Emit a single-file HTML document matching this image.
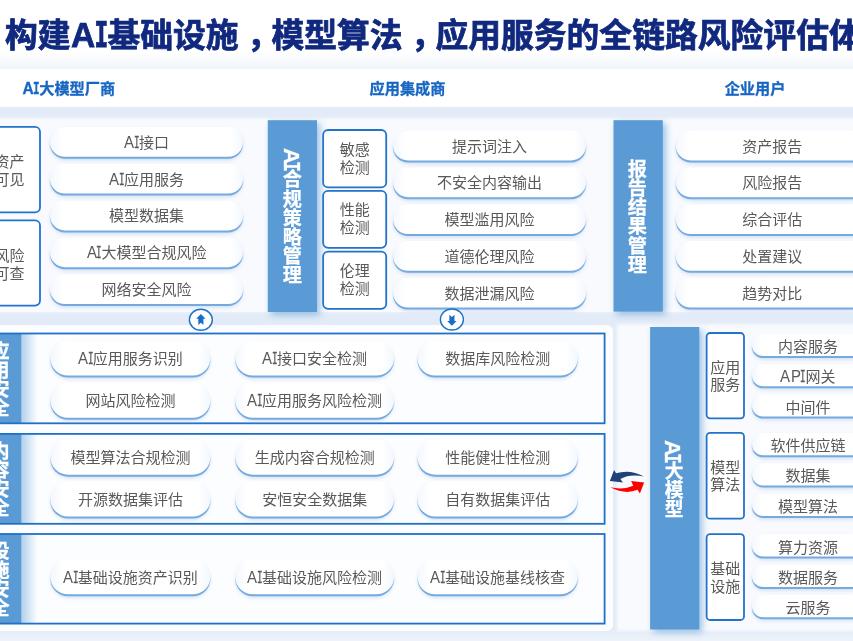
<!DOCTYPE html><html lang="zh"><head><meta charset="utf-8"><title>AI</title><style>
*{margin:0;padding:0;box-sizing:border-box}
html,body{width:853px;height:641px;overflow:hidden;background:#fff}
body{position:relative;will-change:transform;font-family:"Liberation Sans", "Noto Sans CJK SC", sans-serif;color:#595959}
.abs{position:absolute}
.title{position:absolute;left:5px;top:11.7px;-webkit-text-stroke:0.75px #10297f;white-space:nowrap;font-weight:700;font-size:32.8px;line-height:48px;color:#10297f}
.hd{position:absolute;top:79.2px;-webkit-text-stroke:0.3px #1766c2;height:20px;line-height:20px;font-size:15.2px;font-weight:700;color:#1766c2;white-space:nowrap;transform:translateX(-50%)}
.pt{position:absolute;text-align:center;font-size:15px;white-space:nowrap}
.bx{position:absolute;font-size:15px;line-height:18px;text-align:center;display:flex;align-items:center;justify-content:center}
.bar{position:absolute;color:#fff;-webkit-text-stroke:0.25px #fff;font-weight:700;writing-mode:vertical-rl;text-align:center;display:flex;align-items:center;justify-content:center;white-space:nowrap}
</style></head><body>
<div class="abs" style="left:0;top:52px;width:853px;height:16.5px;background:linear-gradient(#fff,#f0f4fa)"></div>
<div class="abs" style="left:0;top:107px;width:853px;height:534px;background:#e2ebf7"></div>
<div class="abs" style="left:0;top:630px;width:853px;height:11px;background:linear-gradient(#e3ecf8,#eef3fa)"></div>
<div class="abs" style="left:-20px;top:120px;width:900px;height:192px;background:#f8fafe;box-shadow:0 -1px 3px 1px #f8fafe"></div>
<div class="abs" style="left:619px;top:326px;width:300px;height:303px;background:#f8fafe;box-shadow:0 0 3px 2px #f8fafe"></div>
<div class="abs" style="left:-20px;top:325.4px;width:633px;height:305.6px;background:#fcfdff;border-radius:6px"></div>
<svg class="abs" style="left:0;top:0" width="853" height="641" viewBox="0 0 853 641"><defs><filter id="b0" x="-5%" y="-20%" width="110%" height="140%"><feGaussianBlur stdDeviation="0.35"/></filter><filter id="b3" x="-10%" y="-50%" width="120%" height="200%"><feGaussianBlur stdDeviation="2.2"/></filter><filter id="b4" x="-50%" y="-10%" width="200%" height="120%"><feGaussianBlur stdDeviation="3.5"/></filter><linearGradient id="g1" x1="0" y1="0" x2="1" y2="0"><stop offset="0" stop-color="#f3f7fd"/><stop offset="0.062" stop-color="#fff"/><stop offset="0.938" stop-color="#fff"/><stop offset="1" stop-color="#f3f7fd"/></linearGradient><linearGradient id="g2" x1="0" y1="0" x2="1" y2="0"><stop offset="0" stop-color="#f3f7fd"/><stop offset="0.075" stop-color="#fff"/><stop offset="0.925" stop-color="#fff"/><stop offset="1" stop-color="#f3f7fd"/></linearGradient><linearGradient id="g3" x1="0" y1="0" x2="1" y2="0"><stop offset="0" stop-color="#f3f7fd"/><stop offset="0.089" stop-color="#fff"/><stop offset="0.911" stop-color="#fff"/><stop offset="1" stop-color="#f3f7fd"/></linearGradient><linearGradient id="gl" x1="0" y1="0" x2="0" y2="1"><stop offset="0.35" stop-color="#76aade" stop-opacity="0"/><stop offset="0.8" stop-color="#76aade" stop-opacity="1"/></linearGradient><linearGradient id="gs" x1="0" y1="0" x2="1" y2="0"><stop offset="0" stop-color="#5b9bd5" stop-opacity=".45"/><stop offset="1" stop-color="#5b9bd5" stop-opacity="0"/></linearGradient></defs><rect x="51.00" y="130.00" width="191.00" height="29.80" rx="14.90" fill="#9dbfe6" opacity=".55" filter="url(#b3)"/>
<rect x="49.65" y="128.20" width="193.70" height="30.60" rx="15.20" fill="url(#gl)" filter="url(#b0)"/>
<rect x="50.00" y="127.00" width="193.00" height="29.80" rx="14.90" fill="url(#g1)"/>
<rect x="51.00" y="166.80" width="191.00" height="29.80" rx="14.90" fill="#9dbfe6" opacity=".55" filter="url(#b3)"/>
<rect x="49.65" y="165.00" width="193.70" height="30.60" rx="15.20" fill="url(#gl)" filter="url(#b0)"/>
<rect x="50.00" y="163.80" width="193.00" height="29.80" rx="14.90" fill="url(#g1)"/>
<rect x="51.00" y="203.60" width="191.00" height="29.80" rx="14.90" fill="#9dbfe6" opacity=".55" filter="url(#b3)"/>
<rect x="49.65" y="201.80" width="193.70" height="30.60" rx="15.20" fill="url(#gl)" filter="url(#b0)"/>
<rect x="50.00" y="200.60" width="193.00" height="29.80" rx="14.90" fill="url(#g1)"/>
<rect x="51.00" y="240.40" width="191.00" height="29.80" rx="14.90" fill="#9dbfe6" opacity=".55" filter="url(#b3)"/>
<rect x="49.65" y="238.60" width="193.70" height="30.60" rx="15.20" fill="url(#gl)" filter="url(#b0)"/>
<rect x="50.00" y="237.40" width="193.00" height="29.80" rx="14.90" fill="url(#g1)"/>
<rect x="51.00" y="277.20" width="191.00" height="29.80" rx="14.90" fill="#9dbfe6" opacity=".55" filter="url(#b3)"/>
<rect x="49.65" y="275.40" width="193.70" height="30.60" rx="15.20" fill="url(#gl)" filter="url(#b0)"/>
<rect x="50.00" y="274.20" width="193.00" height="29.80" rx="14.90" fill="url(#g1)"/>
<rect x="394.10" y="133.60" width="190.90" height="29.80" rx="14.90" fill="#9dbfe6" opacity=".55" filter="url(#b3)"/>
<rect x="392.75" y="131.80" width="193.60" height="30.60" rx="15.20" fill="url(#gl)" filter="url(#b0)"/>
<rect x="393.10" y="130.60" width="192.90" height="29.80" rx="14.90" fill="url(#g1)"/>
<rect x="394.10" y="170.40" width="190.90" height="29.80" rx="14.90" fill="#9dbfe6" opacity=".55" filter="url(#b3)"/>
<rect x="392.75" y="168.60" width="193.60" height="30.60" rx="15.20" fill="url(#gl)" filter="url(#b0)"/>
<rect x="393.10" y="167.40" width="192.90" height="29.80" rx="14.90" fill="url(#g1)"/>
<rect x="394.10" y="207.20" width="190.90" height="29.80" rx="14.90" fill="#9dbfe6" opacity=".55" filter="url(#b3)"/>
<rect x="392.75" y="205.40" width="193.60" height="30.60" rx="15.20" fill="url(#gl)" filter="url(#b0)"/>
<rect x="393.10" y="204.20" width="192.90" height="29.80" rx="14.90" fill="url(#g1)"/>
<rect x="394.10" y="244.00" width="190.90" height="29.80" rx="14.90" fill="#9dbfe6" opacity=".55" filter="url(#b3)"/>
<rect x="392.75" y="242.20" width="193.60" height="30.60" rx="15.20" fill="url(#gl)" filter="url(#b0)"/>
<rect x="393.10" y="241.00" width="192.90" height="29.80" rx="14.90" fill="url(#g1)"/>
<rect x="394.10" y="280.80" width="190.90" height="29.80" rx="14.90" fill="#9dbfe6" opacity=".55" filter="url(#b3)"/>
<rect x="392.75" y="279.00" width="193.60" height="30.60" rx="15.20" fill="url(#gl)" filter="url(#b0)"/>
<rect x="393.10" y="277.80" width="192.90" height="29.80" rx="14.90" fill="url(#g1)"/>
<rect x="676.80" y="133.60" width="191.00" height="29.80" rx="14.90" fill="#9dbfe6" opacity=".55" filter="url(#b3)"/>
<rect x="675.45" y="131.80" width="193.70" height="30.60" rx="15.20" fill="url(#gl)" filter="url(#b0)"/>
<rect x="675.80" y="130.60" width="193.00" height="29.80" rx="14.90" fill="url(#g1)"/>
<rect x="676.80" y="170.40" width="191.00" height="29.80" rx="14.90" fill="#9dbfe6" opacity=".55" filter="url(#b3)"/>
<rect x="675.45" y="168.60" width="193.70" height="30.60" rx="15.20" fill="url(#gl)" filter="url(#b0)"/>
<rect x="675.80" y="167.40" width="193.00" height="29.80" rx="14.90" fill="url(#g1)"/>
<rect x="676.80" y="207.20" width="191.00" height="29.80" rx="14.90" fill="#9dbfe6" opacity=".55" filter="url(#b3)"/>
<rect x="675.45" y="205.40" width="193.70" height="30.60" rx="15.20" fill="url(#gl)" filter="url(#b0)"/>
<rect x="675.80" y="204.20" width="193.00" height="29.80" rx="14.90" fill="url(#g1)"/>
<rect x="676.80" y="244.00" width="191.00" height="29.80" rx="14.90" fill="#9dbfe6" opacity=".55" filter="url(#b3)"/>
<rect x="675.45" y="242.20" width="193.70" height="30.60" rx="15.20" fill="url(#gl)" filter="url(#b0)"/>
<rect x="675.80" y="241.00" width="193.00" height="29.80" rx="14.90" fill="url(#g1)"/>
<rect x="676.80" y="280.80" width="191.00" height="29.80" rx="14.90" fill="#9dbfe6" opacity=".55" filter="url(#b3)"/>
<rect x="675.45" y="279.00" width="193.70" height="30.60" rx="15.20" fill="url(#gl)" filter="url(#b0)"/>
<rect x="675.80" y="277.80" width="193.00" height="29.80" rx="14.90" fill="url(#g1)"/>
<rect x="-40.00" y="126.90" width="80.00" height="85.50" rx="5" fill="#fff" stroke="#2273ca" stroke-width="1.8"/>
<rect x="-40.00" y="220.30" width="80.00" height="85.30" rx="5" fill="#fff" stroke="#2273ca" stroke-width="1.8"/>
<rect x="323.10" y="130.00" width="63.10" height="57.40" rx="5" fill="#fff" stroke="#2273ca" stroke-width="1.8"/>
<rect x="323.10" y="190.80" width="63.10" height="57.00" rx="5" fill="#fff" stroke="#2273ca" stroke-width="1.8"/>
<rect x="323.10" y="251.60" width="63.10" height="57.20" rx="5" fill="#fff" stroke="#2273ca" stroke-width="1.8"/>
<rect x="270.80" y="123.20" width="49.20" height="191.80" fill="#5b9bd5" opacity=".6" filter="url(#b4)"/>
<rect x="267.80" y="120.20" width="49.20" height="191.80" fill="#5b9bd5"/>
<rect x="616.50" y="123.20" width="49.30" height="191.40" fill="#5b9bd5" opacity=".6" filter="url(#b4)"/>
<rect x="613.50" y="120.20" width="49.30" height="191.40" fill="#5b9bd5"/>
<rect x="653.10" y="330.00" width="49.20" height="302.50" fill="#5b9bd5" opacity=".6" filter="url(#b4)"/>
<rect x="650.10" y="327.00" width="49.20" height="302.50" fill="#5b9bd5"/>
<rect x="-27.00" y="333.50" width="48.50" height="89.80" fill="#5b9bd5"/>
<rect x="21.5" y="333.5" width="16" height="89.80000000000001" fill="url(#gs)"/>
<rect x="-10" y="333.5" width="614.6" height="89.80000000000001" fill="none" stroke="#2070c8" stroke-width="1.8"/>
<rect x="-27.00" y="433.90" width="48.50" height="89.90" fill="#5b9bd5"/>
<rect x="21.5" y="433.9" width="16" height="89.89999999999998" fill="url(#gs)"/>
<rect x="-10" y="433.9" width="614.6" height="89.89999999999998" fill="none" stroke="#2070c8" stroke-width="1.8"/>
<rect x="-27.00" y="534.00" width="48.50" height="89.60" fill="#5b9bd5"/>
<rect x="21.5" y="534.0" width="16" height="89.60000000000002" fill="url(#gs)"/>
<rect x="-10" y="534.0" width="614.6" height="89.60000000000002" fill="none" stroke="#2070c8" stroke-width="1.8"/>
<rect x="51.40" y="343.40" width="158.00" height="35.20" rx="17.60" fill="#9dbfe6" opacity=".55" filter="url(#b3)"/>
<rect x="50.05" y="341.60" width="160.70" height="36.00" rx="17.90" fill="url(#gl)" filter="url(#b0)"/>
<rect x="50.40" y="340.40" width="160.00" height="35.20" rx="17.60" fill="url(#g2)"/>
<rect x="236.30" y="343.40" width="156.70" height="35.20" rx="17.60" fill="#9dbfe6" opacity=".55" filter="url(#b3)"/>
<rect x="234.95" y="341.60" width="159.40" height="36.00" rx="17.90" fill="url(#gl)" filter="url(#b0)"/>
<rect x="235.30" y="340.40" width="158.70" height="35.20" rx="17.60" fill="url(#g2)"/>
<rect x="418.50" y="343.40" width="158.30" height="35.20" rx="17.60" fill="#9dbfe6" opacity=".55" filter="url(#b3)"/>
<rect x="417.15" y="341.60" width="161.00" height="36.00" rx="17.90" fill="url(#gl)" filter="url(#b0)"/>
<rect x="417.50" y="340.40" width="160.30" height="35.20" rx="17.60" fill="url(#g2)"/>
<rect x="51.40" y="385.60" width="158.00" height="35.20" rx="17.60" fill="#9dbfe6" opacity=".55" filter="url(#b3)"/>
<rect x="50.05" y="383.80" width="160.70" height="36.00" rx="17.90" fill="url(#gl)" filter="url(#b0)"/>
<rect x="50.40" y="382.60" width="160.00" height="35.20" rx="17.60" fill="url(#g2)"/>
<rect x="236.30" y="385.60" width="156.70" height="35.20" rx="17.60" fill="#9dbfe6" opacity=".55" filter="url(#b3)"/>
<rect x="234.95" y="383.80" width="159.40" height="36.00" rx="17.90" fill="url(#gl)" filter="url(#b0)"/>
<rect x="235.30" y="382.60" width="158.70" height="35.20" rx="17.60" fill="url(#g2)"/>
<rect x="51.40" y="442.50" width="158.00" height="35.20" rx="17.60" fill="#9dbfe6" opacity=".55" filter="url(#b3)"/>
<rect x="50.05" y="440.70" width="160.70" height="36.00" rx="17.90" fill="url(#gl)" filter="url(#b0)"/>
<rect x="50.40" y="439.50" width="160.00" height="35.20" rx="17.60" fill="url(#g2)"/>
<rect x="236.30" y="442.50" width="156.70" height="35.20" rx="17.60" fill="#9dbfe6" opacity=".55" filter="url(#b3)"/>
<rect x="234.95" y="440.70" width="159.40" height="36.00" rx="17.90" fill="url(#gl)" filter="url(#b0)"/>
<rect x="235.30" y="439.50" width="158.70" height="35.20" rx="17.60" fill="url(#g2)"/>
<rect x="418.50" y="442.50" width="158.30" height="35.20" rx="17.60" fill="#9dbfe6" opacity=".55" filter="url(#b3)"/>
<rect x="417.15" y="440.70" width="161.00" height="36.00" rx="17.90" fill="url(#gl)" filter="url(#b0)"/>
<rect x="417.50" y="439.50" width="160.30" height="35.20" rx="17.60" fill="url(#g2)"/>
<rect x="51.40" y="484.30" width="158.00" height="35.20" rx="17.60" fill="#9dbfe6" opacity=".55" filter="url(#b3)"/>
<rect x="50.05" y="482.50" width="160.70" height="36.00" rx="17.90" fill="url(#gl)" filter="url(#b0)"/>
<rect x="50.40" y="481.30" width="160.00" height="35.20" rx="17.60" fill="url(#g2)"/>
<rect x="236.30" y="484.30" width="156.70" height="35.20" rx="17.60" fill="#9dbfe6" opacity=".55" filter="url(#b3)"/>
<rect x="234.95" y="482.50" width="159.40" height="36.00" rx="17.90" fill="url(#gl)" filter="url(#b0)"/>
<rect x="235.30" y="481.30" width="158.70" height="35.20" rx="17.60" fill="url(#g2)"/>
<rect x="418.50" y="484.30" width="158.30" height="35.20" rx="17.60" fill="#9dbfe6" opacity=".55" filter="url(#b3)"/>
<rect x="417.15" y="482.50" width="161.00" height="36.00" rx="17.90" fill="url(#gl)" filter="url(#b0)"/>
<rect x="417.50" y="481.30" width="160.30" height="35.20" rx="17.60" fill="url(#g2)"/>
<rect x="51.40" y="562.10" width="158.00" height="35.20" rx="17.60" fill="#9dbfe6" opacity=".55" filter="url(#b3)"/>
<rect x="50.05" y="560.30" width="160.70" height="36.00" rx="17.90" fill="url(#gl)" filter="url(#b0)"/>
<rect x="50.40" y="559.10" width="160.00" height="35.20" rx="17.60" fill="url(#g2)"/>
<rect x="236.30" y="562.10" width="156.70" height="35.20" rx="17.60" fill="#9dbfe6" opacity=".55" filter="url(#b3)"/>
<rect x="234.95" y="560.30" width="159.40" height="36.00" rx="17.90" fill="url(#gl)" filter="url(#b0)"/>
<rect x="235.30" y="559.10" width="158.70" height="35.20" rx="17.60" fill="url(#g2)"/>
<rect x="418.50" y="562.10" width="158.30" height="35.20" rx="17.60" fill="#9dbfe6" opacity=".55" filter="url(#b3)"/>
<rect x="417.15" y="560.30" width="161.00" height="36.00" rx="17.90" fill="url(#gl)" filter="url(#b0)"/>
<rect x="417.50" y="559.10" width="160.30" height="35.20" rx="17.60" fill="url(#g2)"/>
<rect x="706.60" y="333.00" width="37.40" height="85.30" rx="3.5" fill="#fff" stroke="#2273ca" stroke-width="1.8"/>
<rect x="706.60" y="432.80" width="37.40" height="85.90" rx="3.5" fill="#fff" stroke="#2273ca" stroke-width="1.8"/>
<rect x="706.60" y="534.20" width="37.40" height="85.80" rx="3.5" fill="#fff" stroke="#2273ca" stroke-width="1.8"/>
<rect x="753.00" y="336.90" width="110.00" height="22.20" rx="11.10" fill="#9dbfe6" opacity=".55" filter="url(#b3)"/>
<rect x="751.65" y="335.10" width="112.70" height="23.00" rx="11.40" fill="url(#gl)" filter="url(#b0)"/>
<rect x="752.00" y="333.90" width="112.00" height="22.20" rx="11.10" fill="url(#g3)"/>
<rect x="753.00" y="367.10" width="110.00" height="22.20" rx="11.10" fill="#9dbfe6" opacity=".55" filter="url(#b3)"/>
<rect x="751.65" y="365.30" width="112.70" height="23.00" rx="11.40" fill="url(#gl)" filter="url(#b0)"/>
<rect x="752.00" y="364.10" width="112.00" height="22.20" rx="11.10" fill="url(#g3)"/>
<rect x="753.00" y="397.40" width="110.00" height="22.20" rx="11.10" fill="#9dbfe6" opacity=".55" filter="url(#b3)"/>
<rect x="751.65" y="395.60" width="112.70" height="23.00" rx="11.40" fill="url(#gl)" filter="url(#b0)"/>
<rect x="752.00" y="394.40" width="112.00" height="22.20" rx="11.10" fill="url(#g3)"/>
<rect x="753.00" y="436.10" width="110.00" height="22.20" rx="11.10" fill="#9dbfe6" opacity=".55" filter="url(#b3)"/>
<rect x="751.65" y="434.30" width="112.70" height="23.00" rx="11.40" fill="url(#gl)" filter="url(#b0)"/>
<rect x="752.00" y="433.10" width="112.00" height="22.20" rx="11.10" fill="url(#g3)"/>
<rect x="753.00" y="466.20" width="110.00" height="22.20" rx="11.10" fill="#9dbfe6" opacity=".55" filter="url(#b3)"/>
<rect x="751.65" y="464.40" width="112.70" height="23.00" rx="11.40" fill="url(#gl)" filter="url(#b0)"/>
<rect x="752.00" y="463.20" width="112.00" height="22.20" rx="11.10" fill="url(#g3)"/>
<rect x="753.00" y="496.70" width="110.00" height="22.20" rx="11.10" fill="#9dbfe6" opacity=".55" filter="url(#b3)"/>
<rect x="751.65" y="494.90" width="112.70" height="23.00" rx="11.40" fill="url(#gl)" filter="url(#b0)"/>
<rect x="752.00" y="493.70" width="112.00" height="22.20" rx="11.10" fill="url(#g3)"/>
<rect x="753.00" y="537.30" width="110.00" height="22.20" rx="11.10" fill="#9dbfe6" opacity=".55" filter="url(#b3)"/>
<rect x="751.65" y="535.50" width="112.70" height="23.00" rx="11.40" fill="url(#gl)" filter="url(#b0)"/>
<rect x="752.00" y="534.30" width="112.00" height="22.20" rx="11.10" fill="url(#g3)"/>
<rect x="753.00" y="567.80" width="110.00" height="22.20" rx="11.10" fill="#9dbfe6" opacity=".55" filter="url(#b3)"/>
<rect x="751.65" y="566.00" width="112.70" height="23.00" rx="11.40" fill="url(#gl)" filter="url(#b0)"/>
<rect x="752.00" y="564.80" width="112.00" height="22.20" rx="11.10" fill="url(#g3)"/>
<rect x="753.00" y="598.00" width="110.00" height="22.20" rx="11.10" fill="#9dbfe6" opacity=".55" filter="url(#b3)"/>
<rect x="751.65" y="596.20" width="112.70" height="23.00" rx="11.40" fill="url(#gl)" filter="url(#b0)"/>
<rect x="752.00" y="595.00" width="112.00" height="22.20" rx="11.10" fill="url(#g3)"/>
<ellipse cx="200.85" cy="319.8" rx="11.5" ry="10.5" fill="#fff" stroke="#2272c9" stroke-width="1.4"/><path d="M200.85 314.00 L205.55 318.70 L203.40 318.70 L203.40 325.00 L200.85 322.80 L198.30 325.00 L198.30 318.70 L196.15 318.70 Z" fill="#1a6ccb"/>
<ellipse cx="451.9" cy="319.5" rx="11.5" ry="10.5" fill="#fff" stroke="#2272c9" stroke-width="1.4"/><path d="M451.90 313.70 L456.60 318.40 L454.45 318.40 L454.45 324.70 L451.90 322.50 L449.35 324.70 L449.35 318.40 L447.20 318.40 Z" fill="#1a6ccb" transform="rotate(180 451.9 319.75)"/>
<path d="M609.87 481.07 L614.08 469.97 L616.04 473.34 Q630.09 468.9 643.99 476.5 Q630.09 473.6 620.4 478.96 L622.93 482.61 Z" fill="#1f4378"/><path d="M610.29 487.25 Q625.17 495 637.46 489.85 L639.92 493.57 L644.13 482.61 L631.14 481.07 L633.25 485.63 Q623.07 490.2 610.29 487.25 Z" fill="#ff0000"/></svg>
<div class="title">构建<span style="display:inline-block;position:relative;left:0px;inline-size:25.51px;font-family:'Liberation Sans',sans-serif;font-size:35.33px;line-height:1"><span style="display:inline-block;transform:scaleX(0.95);transform-origin:0 100%">A</span></span><span style="display:inline-block;position:relative;left:0px;inline-size:11.32px;font-family:'DejaVu Sans Mono',monospace;font-size:34.69px;line-height:1"><span style="display:inline-block;margin-inline-start:-4.78px;transform:scaleX(0.68)">I</span></span>基础设施<span style="position:relative;left:8.5px">，</span>模型算法<span style="position:relative;left:8.5px">，</span>应用服务的全链路风险评估体系</div>
<div class="hd" style="left:68.6px"><span style="display:inline-block;position:relative;left:0px;inline-size:11.98px;font-family:'Liberation Sans',sans-serif;font-size:16.37px;line-height:1"><span style="display:inline-block;transform:scaleX(0.95);transform-origin:0 100%">A</span></span><span style="display:inline-block;position:relative;left:0px;inline-size:5.24px;font-family:'DejaVu Sans Mono',monospace;font-size:16.08px;line-height:1"><span style="display:inline-block;margin-inline-start:-2.22px;transform:scaleX(0.68)">I</span></span>大模型厂商</div>
<div class="hd" style="left:407.5px">应用集成商</div>
<div class="hd" style="left:755px">企业用户</div>
<div class="pt" style="left:50px;top:127.70px;width:193px;height:29.8px;line-height:29.8px"><span style="display:inline-block;width:10.35px;font-size:17.25px;line-height:1"><span style="display:inline-block;transform:scaleX(.87);transform-origin:0 50%">A</span></span><span style="display:inline-block;width:4.60px;font-family:'DejaVu Sans Mono',monospace;font-size:16.27px;line-height:1;-webkit-text-stroke:0.3px #595959"><span style="display:inline-block;margin-left:-2.60px;transform:scaleX(.57)">I</span></span>接口</div>
<div class="pt" style="left:50px;top:164.50px;width:193px;height:29.8px;line-height:29.8px"><span style="display:inline-block;width:10.35px;font-size:17.25px;line-height:1"><span style="display:inline-block;transform:scaleX(.87);transform-origin:0 50%">A</span></span><span style="display:inline-block;width:4.60px;font-family:'DejaVu Sans Mono',monospace;font-size:16.27px;line-height:1;-webkit-text-stroke:0.3px #595959"><span style="display:inline-block;margin-left:-2.60px;transform:scaleX(.57)">I</span></span>应用服务</div>
<div class="pt" style="left:50px;top:201.30px;width:193px;height:29.8px;line-height:29.8px">模型数据集</div>
<div class="pt" style="left:50px;top:238.10px;width:193px;height:29.8px;line-height:29.8px"><span style="display:inline-block;width:10.35px;font-size:17.25px;line-height:1"><span style="display:inline-block;transform:scaleX(.87);transform-origin:0 50%">A</span></span><span style="display:inline-block;width:4.60px;font-family:'DejaVu Sans Mono',monospace;font-size:16.27px;line-height:1;-webkit-text-stroke:0.3px #595959"><span style="display:inline-block;margin-left:-2.60px;transform:scaleX(.57)">I</span></span>大模型合规风险</div>
<div class="pt" style="left:50px;top:274.90px;width:193px;height:29.8px;line-height:29.8px">网络安全风险</div>
<div class="pt" style="left:393.1px;top:131.60px;width:192.9px;height:29.8px;line-height:29.8px">提示词注入</div>
<div class="pt" style="left:393.1px;top:168.40px;width:192.9px;height:29.8px;line-height:29.8px">不安全内容输出</div>
<div class="pt" style="left:393.1px;top:205.20px;width:192.9px;height:29.8px;line-height:29.8px">模型滥用风险</div>
<div class="pt" style="left:393.1px;top:242.00px;width:192.9px;height:29.8px;line-height:29.8px">道德伦理风险</div>
<div class="pt" style="left:393.1px;top:278.80px;width:192.9px;height:29.8px;line-height:29.8px">数据泄漏风险</div>
<div class="pt" style="left:675.8px;top:131.60px;width:193px;height:29.8px;line-height:29.8px">资产报告</div>
<div class="pt" style="left:675.8px;top:168.40px;width:193px;height:29.8px;line-height:29.8px">风险报告</div>
<div class="pt" style="left:675.8px;top:205.20px;width:193px;height:29.8px;line-height:29.8px">综合评估</div>
<div class="pt" style="left:675.8px;top:242.00px;width:193px;height:29.8px;line-height:29.8px">处置建议</div>
<div class="pt" style="left:675.8px;top:278.80px;width:193px;height:29.8px;line-height:29.8px">趋势对比</div>
<div class="bx" style="left:-40px;top:126.9px;width:80.0px;height:85.5px;line-height:18px;padding-left:19px;padding-top:2px;white-space:nowrap"><div>资产<br>可见</div></div>
<div class="bx" style="left:-40px;top:220.3px;width:80.0px;height:85.30000000000001px;line-height:18px;padding-left:19px;padding-top:5px;white-space:nowrap"><div>风险<br>可查</div></div>
<div class="bx" style="left:323.1px;top:130.0px;width:63.099999999999966px;height:57.400000000000006px;line-height:18px;"><div>敏感<br>检测</div></div>
<div class="bx" style="left:323.1px;top:190.8px;width:63.099999999999966px;height:57.0px;line-height:18px;"><div>性能<br>检测</div></div>
<div class="bx" style="left:323.1px;top:251.6px;width:63.099999999999966px;height:57.20000000000002px;line-height:18px;"><div>伦理<br>检测</div></div>
<div class="bar" style="left:267.8px;top:120.2px;width:49.20px;height:191.80px;font-size:19.1px"><span style="position:relative;left:-2px;top:-0.6px"><span style="display:inline-block;position:relative;left:0.5px;inline-size:17.03px;font-family:'Liberation Sans',sans-serif;font-size:21.73px;line-height:1"><span style="display:inline-block;transform:scaleY(1.03);transform-origin:50% 0">A</span></span><span style="display:inline-block;position:relative;left:0.5px;inline-size:5.67px;font-family:'DejaVu Sans Mono',monospace;font-size:21.34px;line-height:1"><span style="display:inline-block;margin-inline-start:-3.59px;transform:scaleY(0.85)">I</span></span>合规策略管理</span></div>
<div class="bar" style="left:613.5px;top:120.2px;width:49.30px;height:191.40px;font-size:19.2px"><span style="position:relative;left:-2.8px;top:0.6px">报告结果管理</span></div>
<div class="bar" style="left:650.1px;top:327.0px;width:49.20px;height:302.50px;font-size:18.8px"><span style="position:relative;left:-2.5px;top:0.2px"><span style="display:inline-block;position:relative;left:0.5px;inline-size:17.03px;font-family:'Liberation Sans',sans-serif;font-size:21.73px;line-height:1"><span style="display:inline-block;transform:scaleY(1.03);transform-origin:50% 0">A</span></span><span style="display:inline-block;position:relative;left:0.5px;inline-size:5.67px;font-family:'DejaVu Sans Mono',monospace;font-size:21.34px;line-height:1"><span style="display:inline-block;margin-inline-start:-3.59px;transform:scaleY(0.85)">I</span></span>大模型</span></div>
<div class="bar" style="left:-27px;top:333.5px;width:48.50px;height:89.80px;font-size:19.1px"><span style="position:relative;left:0.7px;top:0.5px">应用安全</span></div>
<div class="bar" style="left:-27px;top:433.9px;width:48.50px;height:89.90px;font-size:19.1px"><span style="position:relative;left:0.7px;top:0.5px">内容安全</span></div>
<div class="bar" style="left:-27px;top:534.0px;width:48.50px;height:89.60px;font-size:19.1px"><span style="position:relative;left:0.7px;top:0.5px">设施安全</span></div>
<div class="pt" style="left:50.4px;top:341.20px;width:160px;height:35.2px;line-height:35.2px"><span style="display:inline-block;width:10.35px;font-size:17.25px;line-height:1"><span style="display:inline-block;transform:scaleX(.87);transform-origin:0 50%">A</span></span><span style="display:inline-block;width:4.60px;font-family:'DejaVu Sans Mono',monospace;font-size:16.27px;line-height:1;-webkit-text-stroke:0.3px #595959"><span style="display:inline-block;margin-left:-2.60px;transform:scaleX(.57)">I</span></span>应用服务识别</div>
<div class="pt" style="left:235.3px;top:341.20px;width:158.7px;height:35.2px;line-height:35.2px"><span style="display:inline-block;width:10.35px;font-size:17.25px;line-height:1"><span style="display:inline-block;transform:scaleX(.87);transform-origin:0 50%">A</span></span><span style="display:inline-block;width:4.60px;font-family:'DejaVu Sans Mono',monospace;font-size:16.27px;line-height:1;-webkit-text-stroke:0.3px #595959"><span style="display:inline-block;margin-left:-2.60px;transform:scaleX(.57)">I</span></span>接口安全检测</div>
<div class="pt" style="left:417.5px;top:341.20px;width:160.3px;height:35.2px;line-height:35.2px">数据库风险检测</div>
<div class="pt" style="left:50.4px;top:383.40px;width:160px;height:35.2px;line-height:35.2px">网站风险检测</div>
<div class="pt" style="left:235.3px;top:383.40px;width:158.7px;height:35.2px;line-height:35.2px"><span style="display:inline-block;width:10.35px;font-size:17.25px;line-height:1"><span style="display:inline-block;transform:scaleX(.87);transform-origin:0 50%">A</span></span><span style="display:inline-block;width:4.60px;font-family:'DejaVu Sans Mono',monospace;font-size:16.27px;line-height:1;-webkit-text-stroke:0.3px #595959"><span style="display:inline-block;margin-left:-2.60px;transform:scaleX(.57)">I</span></span>应用服务风险检测</div>
<div class="pt" style="left:50.4px;top:440.30px;width:160px;height:35.2px;line-height:35.2px">模型算法合规检测</div>
<div class="pt" style="left:235.3px;top:440.30px;width:158.7px;height:35.2px;line-height:35.2px">生成内容合规检测</div>
<div class="pt" style="left:417.5px;top:440.30px;width:160.3px;height:35.2px;line-height:35.2px">性能健壮性检测</div>
<div class="pt" style="left:50.4px;top:482.10px;width:160px;height:35.2px;line-height:35.2px">开源数据集评估</div>
<div class="pt" style="left:235.3px;top:482.10px;width:158.7px;height:35.2px;line-height:35.2px">安恒安全数据集</div>
<div class="pt" style="left:417.5px;top:482.10px;width:160.3px;height:35.2px;line-height:35.2px">自有数据集评估</div>
<div class="pt" style="left:50.4px;top:559.90px;width:160px;height:35.2px;line-height:35.2px"><span style="display:inline-block;width:10.35px;font-size:17.25px;line-height:1"><span style="display:inline-block;transform:scaleX(.87);transform-origin:0 50%">A</span></span><span style="display:inline-block;width:4.60px;font-family:'DejaVu Sans Mono',monospace;font-size:16.27px;line-height:1;-webkit-text-stroke:0.3px #595959"><span style="display:inline-block;margin-left:-2.60px;transform:scaleX(.57)">I</span></span>基础设施资产识别</div>
<div class="pt" style="left:235.3px;top:559.90px;width:158.7px;height:35.2px;line-height:35.2px"><span style="display:inline-block;width:10.35px;font-size:17.25px;line-height:1"><span style="display:inline-block;transform:scaleX(.87);transform-origin:0 50%">A</span></span><span style="display:inline-block;width:4.60px;font-family:'DejaVu Sans Mono',monospace;font-size:16.27px;line-height:1;-webkit-text-stroke:0.3px #595959"><span style="display:inline-block;margin-left:-2.60px;transform:scaleX(.57)">I</span></span>基础设施风险检测</div>
<div class="pt" style="left:417.5px;top:559.90px;width:160.3px;height:35.2px;line-height:35.2px"><span style="display:inline-block;width:10.35px;font-size:17.25px;line-height:1"><span style="display:inline-block;transform:scaleX(.87);transform-origin:0 50%">A</span></span><span style="display:inline-block;width:4.60px;font-family:'DejaVu Sans Mono',monospace;font-size:16.27px;line-height:1;-webkit-text-stroke:0.3px #595959"><span style="display:inline-block;margin-left:-2.60px;transform:scaleX(.57)">I</span></span>基础设施基线核查</div>
<div class="bx" style="left:706.6px;top:333.0px;width:37.39999999999998px;height:85.30000000000001px;line-height:17.5px;padding-top:1.5px"><div>应用<br>服务</div></div>
<div class="bx" style="left:706.6px;top:432.8px;width:37.39999999999998px;height:85.90000000000003px;line-height:17.5px;padding-top:1.5px"><div>模型<br>算法</div></div>
<div class="bx" style="left:706.6px;top:534.2px;width:37.39999999999998px;height:85.79999999999995px;line-height:17.5px;padding-top:1.5px"><div>基础<br>设施</div></div>
<div class="pt" style="left:752px;top:336.10px;width:112px;height:22.2px;line-height:22.2px">内容服务</div>
<div class="pt" style="left:752px;top:366.30px;width:112px;height:22.2px;line-height:22.2px"><span style="display:inline-block;width:10.35px;font-size:17.25px;line-height:1"><span style="display:inline-block;transform:scaleX(.87);transform-origin:0 50%">A</span></span><span style="display:inline-block;width:10.20px;font-size:17.25px;line-height:1"><span style="display:inline-block;transform:scaleX(.87);transform-origin:0 50%">P</span></span><span style="display:inline-block;width:4.60px;font-family:'DejaVu Sans Mono',monospace;font-size:16.27px;line-height:1;-webkit-text-stroke:0.3px #595959"><span style="display:inline-block;margin-left:-2.60px;transform:scaleX(.57)">I</span></span>网关</div>
<div class="pt" style="left:752px;top:396.60px;width:112px;height:22.2px;line-height:22.2px">中间件</div>
<div class="pt" style="left:752px;top:435.30px;width:112px;height:22.2px;line-height:22.2px">软件供应链</div>
<div class="pt" style="left:752px;top:465.40px;width:112px;height:22.2px;line-height:22.2px">数据集</div>
<div class="pt" style="left:752px;top:495.90px;width:112px;height:22.2px;line-height:22.2px">模型算法</div>
<div class="pt" style="left:752px;top:536.50px;width:112px;height:22.2px;line-height:22.2px">算力资源</div>
<div class="pt" style="left:752px;top:567.00px;width:112px;height:22.2px;line-height:22.2px">数据服务</div>
<div class="pt" style="left:752px;top:597.20px;width:112px;height:22.2px;line-height:22.2px">云服务</div>
</body></html>
